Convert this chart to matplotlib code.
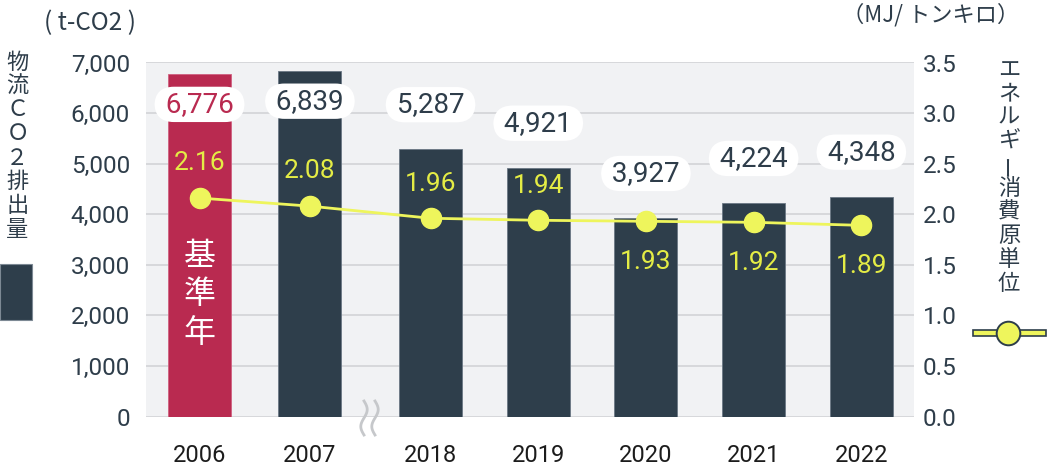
import matplotlib
matplotlib.use('Agg')
import matplotlib.pyplot as plt
import numpy as np
from matplotlib.patches import Rectangle
from matplotlib.lines import Line2D

plt.rcParams['font.family'] = ['Roboto', 'Noto Sans CJK JP', 'DejaVu Sans']
CJK = ['Noto Sans CJK JP', 'DejaVu Sans']

# ---- data ----
years = ['2006', '2007', '2018', '2019', '2020', '2021', '2022']
co2 = [6776, 6839, 5287, 4921, 3927, 4224, 4348]
energy = [2.16, 2.08, 1.96, 1.94, 1.93, 1.92, 1.89]
positions = [0, 1.025, 2.145, 3.145, 4.145, 5.145, 6.145]
left_ticks = [0, 1000, 2000, 3000, 4000, 5000, 6000, 7000]
right_ticks = [0.0, 0.5, 1.0, 1.5, 2.0, 2.5, 3.0, 3.5]
bar_label_inside = [True, True, False, False, False, False, False]
line_label_above = [True, True, True, True, False, False, False]
left_title = '物流ＣＯ２排出量'
right_title = 'エネルギー消費原単位'
base_year_text = '基準年'

# ---- style ----
DARK = '#2e3e4b'
RED = '#b92a50'
PANEL = '#f1f2f4'
GRID = '#d2d3d6'
YEL = '#eef55c'
YEL_TXT = '#e4ec45'
TXT = '#2e3d4a'

W, H = 1047, 469
fig = plt.figure(figsize=(W / 100, H / 100), dpi=100)
ax = fig.add_axes([146 / W, (H - 416.5) / H, (914 - 146) / W, (416.5 - 62.5) / H])
ax.set_facecolor(PANEL)
ax.set_xlim(-0.497, 6.634)
ax.set_ylim(0, 7000)
for s in ax.spines.values():
    s.set_visible(False)
ax.set_yticks(left_ticks)
ax.set_yticklabels([f'{t:,}' for t in left_ticks])
ax.yaxis.grid(True, color=GRID, lw=1.2)
ax.set_axisbelow(True)
ax.tick_params(axis='y', length=0, pad=11.5, labelsize=17.5, labelcolor=TXT)
ax.set_xticks(positions)
ax.set_xticklabels(years)
ax.tick_params(axis='x', length=0, pad=20, labelsize=17, labelcolor='#1c1c1c')

colors = [RED] + [DARK] * (len(years) - 1)
edge = ['#d06080'] + ['#6a7784'] * (len(years) - 1)
ax.bar(positions, co2, width=0.585, color=colors, edgecolor=edge, linewidth=0.6, zorder=2)

ax2 = ax.twinx()
ax2.set_ylim(0, 3.5)
ax2.set_xlim(ax.get_xlim())
for s in ax2.spines.values():
    s.set_visible(False)
ax2.set_yticks(right_ticks)
ax2.set_yticklabels([f'{t:.1f}' for t in right_ticks])
ax2.tick_params(axis='y', length=0, pad=6.5, labelsize=17.5, labelcolor=TXT)

ax2.plot(positions, energy, color=YEL, lw=2, marker='o', ms=14.5, mec=YEL, zorder=3)

for x, v, inside, c in zip(positions, co2, bar_label_inside, colors):
    off = -22 if inside else 32
    ax2.annotate(f' {v:,} ', (x, v / 2000.0), xytext=(0, off), textcoords='offset points',
                 ha='center', va='center', fontsize=20, color=c if c == RED else TXT,
                 bbox=dict(boxstyle='round,pad=0.15,rounding_size=0.7', fc='white', ec='none'),
                 zorder=5)

for x, e, above in zip(positions, energy, line_label_above):
    off = 25 if above else -29
    ax2.annotate(f'{e:.2f}', (x, e), xytext=(0, off), textcoords='offset points',
                 ha='center', va='center', fontsize=19, color=YEL_TXT, zorder=5)

# base year vertical text
for i, ch in enumerate(base_year_text):
    ypx = 256 + i * 38.5
    ax.text(positions[0], (416.5 - ypx) / (354 / 7000), ch, ha='center', va='center',
            fontsize=23, color='white', zorder=4, family=CJK)

# unit labels
fig.text(90 / W, 1 - 23 / H, '( t-CO2 )', ha='center', va='center', fontsize=17.5,
         color=TXT, family=CJK)
fig.text(931 / W, 1 - 15 / H, '（MJ/ トンキロ）', ha='center', va='center', fontsize=16,
         color=TXT, family=CJK)

# vertical axis titles
for i, ch in enumerate(left_title):
    fig.text(17.5 / W, 1 - (62 + i * 24) / H, ch, ha='center', va='center', fontsize=16,
             color=TXT, family=CJK)
for i, ch in enumerate(right_title):
    rot = 90 if ch == 'ー' else 0
    fig.text(1009 / W, 1 - (70 + i * 23.7) / H, ch, ha='center', va='center', fontsize=16,
             color=TXT, family=CJK, rotation=rot)

# legend symbols
fig.add_artist(Rectangle((0, 1 - 320 / H), 32 / W, 56 / H, transform=fig.transFigure,
                         fc=DARK, ec='#7d8994', lw=0.8))
fig.add_artist(Rectangle((973 / W, 1 - 336 / H), 73 / W, 6 / H, transform=fig.transFigure,
                         fc=YEL, ec=DARK, lw=1.2))
fig.add_artist(Line2D([1008 / W], [1 - 333 / H], transform=fig.transFigure, marker='o',
                      ms=17, mfc=YEL, mec=DARK, mew=1.4, ls='none'))

# axis break mark
t = np.linspace(0, 1, 60)
for xc in (364, 375):
    xs = xc + 3.2 * np.sin(2 * np.pi * t)
    ys = 401 + 34 * t
    fig.add_artist(Line2D(xs / W, 1 - ys / H, transform=fig.transFigure, color='#c6c8cb', lw=2))

fig.savefig('out.png', dpi=100)
